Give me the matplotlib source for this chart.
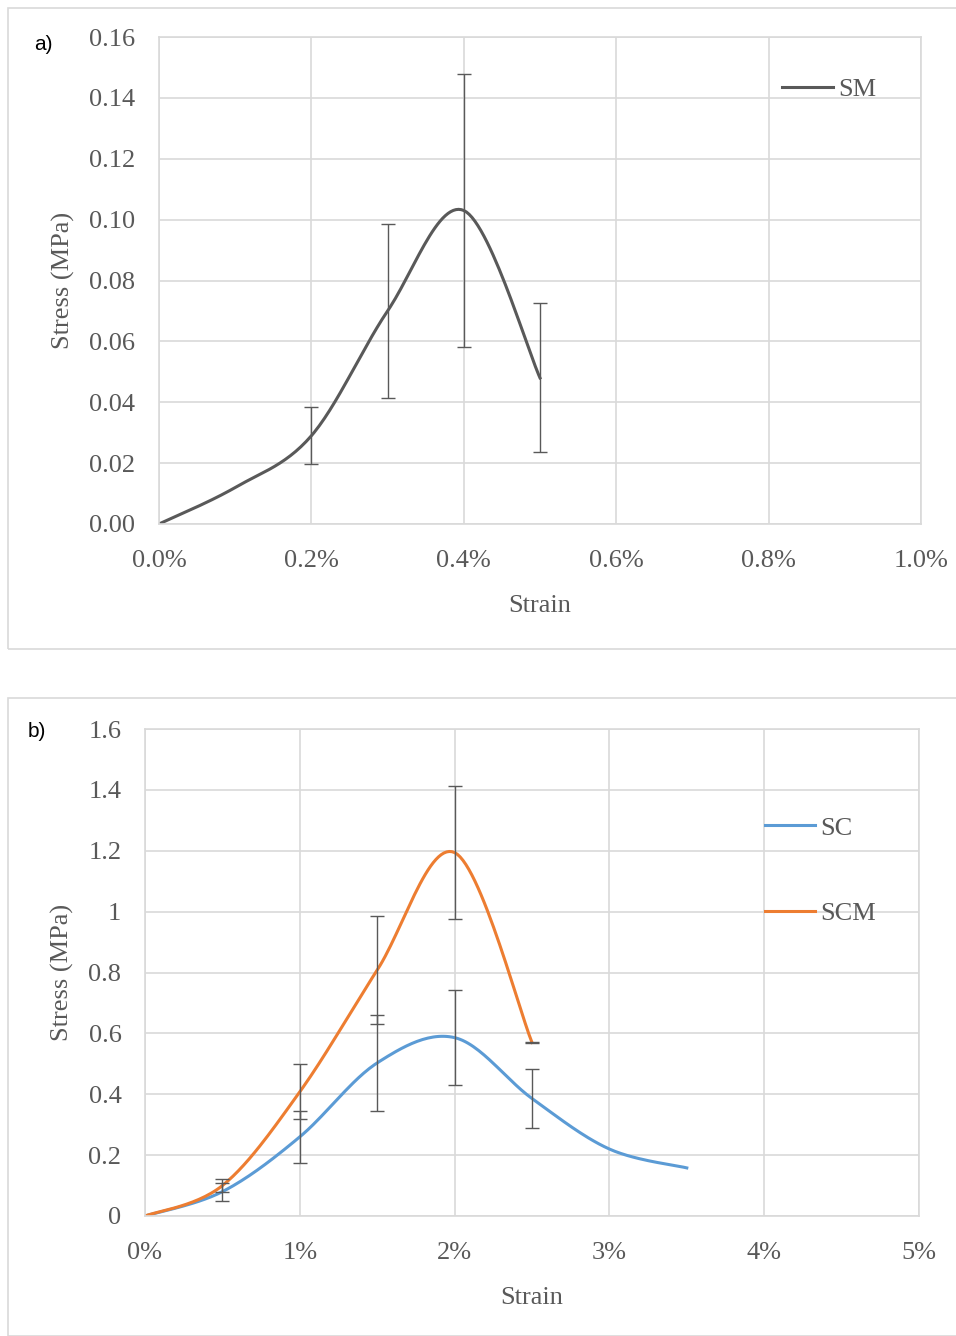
import numpy as np
import matplotlib
matplotlib.use("Agg")
import matplotlib.pyplot as plt
from matplotlib.patches import Rectangle
from matplotlib.ticker import FuncFormatter

# Panel a - SM
strain_sm = [0.0, 0.1, 0.2, 0.3, 0.4, 0.5]          # percent
stress_sm = [0.0, 0.012, 0.029, 0.070, 0.103, 0.048]  # MPa
err_sm = [0.0, 0.0, 0.0093, 0.0285, 0.045, 0.0245]

# Panel b - SC and SCM
strain_sc = [0.0, 0.5, 1.0, 1.5, 2.0, 2.5, 3.0, 3.5]
stress_sc = [0.0, 0.08, 0.26, 0.503, 0.586, 0.386, 0.22, 0.158]
err_sc = [0.0, 0.03, 0.085, 0.158, 0.155, 0.097, 0.0, 0.0]

strain_scm = [0.0, 0.5, 1.0, 1.5, 2.0, 2.5]
stress_scm = [0.0, 0.10, 0.408, 0.808, 1.194, 0.570]
err_scm = [0.0, 0.02, 0.09, 0.177, 0.218, 0.003]

GRID = "#d9d9d9"
SERIF = "Liberation Serif"


def smooth(x, y, n=30):
    # Excel-like smoothed line: cubic Bezier with Catmull-Rom control points
    x = np.asarray(x, float)
    y = np.asarray(y, float)
    px = np.concatenate([[x[0]], x, [x[-1]]])
    py = np.concatenate([[y[0]], y, [y[-1]]])
    xs, ys = [], []
    t = np.linspace(0, 1, n)
    for i in range(1, len(px) - 2):
        p0 = np.array([px[i], py[i]])
        p3 = np.array([px[i + 1], py[i + 1]])
        p1 = p0 + (np.array([px[i + 1], py[i + 1]]) - np.array([px[i - 1], py[i - 1]])) / 6
        p2 = p3 - (np.array([px[i + 2], py[i + 2]]) - np.array([px[i], py[i]])) / 6
        b = ((1 - t) ** 3)[:, None] * p0 + (3 * (1 - t) ** 2 * t)[:, None] * p1 \
            + (3 * (1 - t) * t ** 2)[:, None] * p2 + (t ** 3)[:, None] * p3
        xs.extend(b[:, 0])
        ys.extend(b[:, 1])
    return xs, ys


def style_axes(ax):
    for s in ax.spines.values():
        s.set_color(GRID)
        s.set_linewidth(1.2)
    ax.grid(True, color=GRID, linewidth=1.2)
    ax.set_axisbelow(True)
    ax.tick_params(length=0, labelsize=19, colors="#595959", pad=17)
    ax.tick_params(axis="x", pad=19)
    for lab in ax.get_xticklabels() + ax.get_yticklabels():
        lab.set_fontfamily(SERIF)


fig = plt.figure(figsize=(9.56, 13.36), dpi=100)

# panel frames
fig.add_artist(Rectangle((8 / 956, 1 - 649 / 1336), 1.0, (649 - 8) / 1336,
                         transform=fig.transFigure, fill=False, edgecolor=GRID, linewidth=1.2))
fig.add_artist(Rectangle((8 / 956, 0.0), 1.0, (1336 - 698) / 1336,
                         transform=fig.transFigure, fill=False, edgecolor=GRID, linewidth=1.2))

# ---- panel a ----
ax1 = fig.add_axes([159 / 956, 1 - 524 / 1336, 762 / 956, 487 / 1336])
sx, sy = smooth(strain_sm, stress_sm)
ax1.plot(sx, sy, color="#595959", linewidth=2.2, label="SM")
ax1.errorbar(strain_sm[2:], stress_sm[2:], yerr=err_sm[2:], fmt="none",
             ecolor="#595959", elinewidth=1, capsize=5, capthick=1)
ax1.set_xlim(0, 1.0)
ax1.set_ylim(0, 0.16)
ax1.set_xticks(np.arange(0, 1.01, 0.2))
ax1.set_yticks(np.arange(0, 0.161, 0.02))
ax1.xaxis.set_major_formatter(FuncFormatter(lambda v, p: "%.1f%%" % v))
ax1.yaxis.set_major_formatter(FuncFormatter(lambda v, p: "%.2f" % v))
style_axes(ax1)
ax1.set_xlabel("Strain", fontfamily=SERIF, fontsize=19, color="#595959", labelpad=16)
ax1.set_ylabel("Stress (MPa)", fontfamily=SERIF, fontsize=19, color="#595959", labelpad=10)
ax1.legend(loc="upper right", bbox_to_anchor=(0.972, 0.965), frameon=False,
           prop={"family": SERIF, "size": 19}, handlelength=1.9, handletextpad=0.2,
           labelcolor="#595959")
fig.text(34 / 956, 1 - 45 / 1336, "a)", fontsize=15, family="Liberation Sans", va="center")

# ---- panel b ----
ax2 = fig.add_axes([145 / 956, 1 - 1216 / 1336, 774 / 956, 487 / 1336])
sx, sy = smooth(strain_sc, stress_sc)
ax2.plot(sx, sy, color="#5b9bd5", linewidth=2.2, label="SC")
sx, sy = smooth(strain_scm, stress_scm)
ax2.plot(sx, sy, color="#ed7d31", linewidth=2.2, label="SCM")
ax2.errorbar(strain_sc[1:6], stress_sc[1:6], yerr=err_sc[1:6], fmt="none",
             ecolor="#595959", elinewidth=1, capsize=5, capthick=1)
ax2.errorbar(strain_scm[1:], stress_scm[1:], yerr=err_scm[1:], fmt="none",
             ecolor="#595959", elinewidth=1, capsize=5, capthick=1)
ax2.set_xlim(0, 5)
ax2.set_ylim(0, 1.6)
ax2.set_xticks(np.arange(0, 5.1, 1))
ax2.set_yticks(np.arange(0, 1.61, 0.2))
ax2.xaxis.set_major_formatter(FuncFormatter(lambda v, p: "%d%%" % round(v)))
ax2.yaxis.set_major_formatter(FuncFormatter(lambda v, p: ("%.1f" % v).rstrip("0").rstrip(".") if v else "0"))
style_axes(ax2)
ax2.set_xlabel("Strain", fontfamily=SERIF, fontsize=19, color="#595959", labelpad=16)
ax2.set_ylabel("Stress (MPa)", fontfamily=SERIF, fontsize=19, color="#595959", labelpad=10)
ax2.legend(loc="upper right", bbox_to_anchor=(0.975, 0.87), frameon=False,
           prop={"family": SERIF, "size": 19}, handlelength=1.9, handletextpad=0.2,
           labelspacing=2.35, labelcolor="#595959")
fig.text(28 / 956, 1 - 731 / 1336, "b)", fontsize=15, family="Liberation Sans", va="center")

fig.savefig("out.png", dpi=100, facecolor="white")
